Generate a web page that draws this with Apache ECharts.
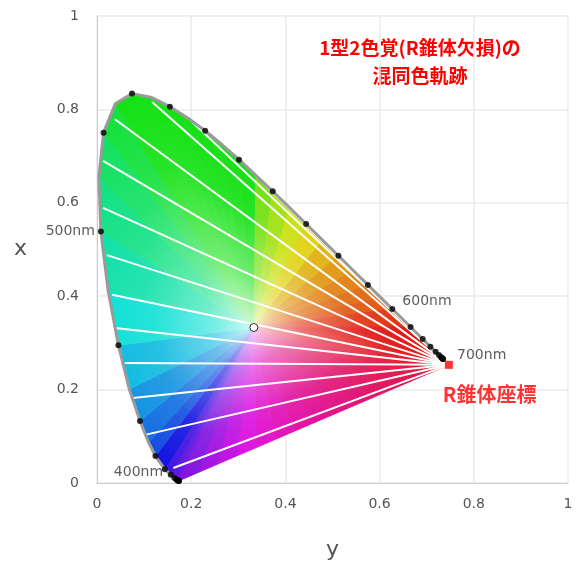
<!DOCTYPE html>
<html lang="ja">
<head>
    <meta charset="UTF-8">
    <title>混同色軌跡</title>
    <script src="https://cdn.jsdelivr.net/npm/echarts@6/dist/echarts.min.js"></script>
    <style type="text/css">
        html, body { margin: 0; padding: 0; background: #fff; }
        #chart { width: 585px; height: 568px; }
    </style>
</head>
<body>
<div id="chart"></div>
<script type="text/javascript">
    // スペクトル軌跡 [nm, x, y]
    var locus = [
        [380, 0.1741, 0.0050], [390, 0.1738, 0.0049], [400, 0.1733, 0.0048], [410, 0.1726, 0.0048],
        [420, 0.1714, 0.0051], [430, 0.1689, 0.0069], [440, 0.1644, 0.0109], [450, 0.1566, 0.0177],
        [460, 0.1440, 0.0297], [470, 0.1241, 0.0578], [475, 0.1096, 0.0868], [480, 0.0913, 0.1327],
        [485, 0.0687, 0.2007], [490, 0.0454, 0.2950], [495, 0.0235, 0.4127], [500, 0.0082, 0.5384],
        [505, 0.0039, 0.6548], [510, 0.0139, 0.7502], [515, 0.0389, 0.8120], [520, 0.0743, 0.8338],
        [525, 0.1142, 0.8262], [530, 0.1547, 0.8059], [535, 0.1929, 0.7816], [540, 0.2296, 0.7543],
        [545, 0.2658, 0.7243], [550, 0.3016, 0.6923], [555, 0.3373, 0.6589], [560, 0.3731, 0.6245],
        [565, 0.4087, 0.5896], [570, 0.4441, 0.5547], [575, 0.4788, 0.5202], [580, 0.5125, 0.4866],
        [585, 0.5448, 0.4544], [590, 0.5752, 0.4242], [595, 0.6029, 0.3965], [600, 0.6270, 0.3725],
        [610, 0.6658, 0.3340], [620, 0.6915, 0.3083], [630, 0.7079, 0.2920], [640, 0.7190, 0.2809],
        [650, 0.7260, 0.2740], [660, 0.7300, 0.2700], [670, 0.7320, 0.2680], [680, 0.7334, 0.2666],
        [690, 0.7344, 0.2656], [700, 0.7347, 0.2653]
    ];
    // R錐体の混同色中心
    var copunctal = [0.747, 0.253];
    var whitePoint = [0.333, 0.333];
    // 混同色線の端点
    var confusionEnds = [
        [0.162, 0.032], [0.102, 0.103], [0.076, 0.182], [0.059, 0.257], [0.038, 0.332],
        [0.032, 0.403], [0.021, 0.488], [0.013, 0.589], [0.013, 0.690], [0.038, 0.779],
        [0.117, 0.816], [0.200, 0.775], [0.280, 0.715], [0.360, 0.635], [0.440, 0.555],
        [0.520, 0.475], [0.590, 0.405], [0.650, 0.350]
    ];
    // 波長ラベル
    var nmLabels = [
        [0.0082, 0.5384, '500nm', 'left', [0, 0]],
        [0.6270, 0.3725, '600nm', 'right', [4, -8]],
        [0.7347, 0.2653, '700nm', 'right', [8, -4]],
        [0.1700, 0.0048, '400nm', 'left', [-8, -8]]
    ];

    // xy -> sRGB
    function xyColor(x, y) {
        var X = x / y, Y = 1, Z = (1 - x - y) / y;
        var r = 3.2406 * X - 1.5372 * Y - 0.4986 * Z;
        var g = -0.9689 * X + 1.8758 * Y + 0.0415 * Z;
        var b = 0.0557 * X - 0.2040 * Y + 1.0570 * Z;
        r = Math.max(r, 0); g = Math.max(g, 0); b = Math.max(b, 0);
        var m = Math.max(r, g, b);
        return [r, g, b].map(function (c) {
            c = c / m;
            c = c <= 0.0031308 ? 12.92 * c : 1.055 * Math.pow(c, 1 / 2.4) - 0.055;
            // 少し彩度を落とす
            return Math.round(Math.min(1, c) * 205 + 20);
        });
    }
    function rgb(c, k) {
        var v = c.map(function (t) { return Math.round(t + (255 - t) * k); });
        return 'rgb(' + v[0] + ',' + v[1] + ',' + v[2] + ')';
    }

    // 塗りの多角形 (軌跡 + 混同色中心)
    var poly = locus.map(function (p) { return [p[1], p[2]]; });
    poly.push(copunctal);
    var fillData = [];
    for (var i = 0; i < poly.length; i++) fillData.push([i]);

    var chart = echarts.init(document.getElementById('chart'));

    function renderFill(params, api) {
        var i = api.value(0);
        var a = poly[i], b = poly[(i + 1) % poly.length];
        var steps = (i >= poly.length - 2) ? 14 : 1;
        var children = [];
        var c = api.coord(whitePoint);
        for (var s = 0; s < steps; s++) {
            var p0 = [a[0] + (b[0] - a[0]) * s / steps, a[1] + (b[1] - a[1]) * s / steps];
            var p1 = [a[0] + (b[0] - a[0]) * (s + 1) / steps, a[1] + (b[1] - a[1]) * (s + 1) / steps];
            var mid = [(p0[0] + p1[0]) / 2, (p0[1] + p1[1]) / 2];
            var col = xyColor(mid[0], mid[1]);
            var q0 = api.coord(p0), q1 = api.coord(p1), qm = api.coord(mid);
            var grad = new echarts.graphic.LinearGradient(c[0], c[1], qm[0], qm[1], [
                { offset: 0, color: rgb(col, 0.8) },
                { offset: 0.3, color: rgb(col, 0.4) },
                { offset: 0.7, color: rgb(col, 0.08) },
                { offset: 1, color: rgb(col, 0) }
            ], true);
            children.push({
                type: 'polygon',
                shape: { points: [c, q0, q1] },
                style: { fill: grad, stroke: grad, lineWidth: 1 }
            });
        }
        return { type: 'group', children: children };
    }

    var option = {
        animation: false,
        textStyle: { fontFamily: 'DejaVu Sans' },
        grid: { left: 97, right: 17, top: 16, bottom: 85 },
        xAxis: {
            type: 'value', min: 0, max: 1, interval: 0.2,
            name: 'y', nameLocation: 'middle', nameGap: 56,
            nameTextStyle: { fontSize: 22, color: '#555' },
            axisLine: { show: true, lineStyle: { color: '#ccc' } },
            axisTick: { show: false },
            axisLabel: { color: '#555', fontSize: 14, margin: 14 },
            splitLine: { lineStyle: { color: '#ebebeb', width: 1.5 } }
        },
        yAxis: {
            type: 'value', min: 0, max: 1, interval: 0.2,
            name: 'x', nameLocation: 'middle', nameGap: 70, nameRotate: 0,
            nameTextStyle: { fontSize: 22, color: '#555' },
            axisLine: { show: true, lineStyle: { color: '#ccc' } },
            axisTick: { show: false },
            axisLabel: { color: '#555', fontSize: 14, margin: 18 },
            splitLine: { lineStyle: { color: '#ebebeb', width: 1.5 } }
        },
        graphic: [{
            type: 'text', x: 420, y: 34,
            style: {
                text: '1型2色覚(R錐体欠損)の\n混同色軌跡', fill: '#ff0000',
                font: 'bold 19px "Noto Sans CJK JP"', align: 'center', lineHeight: 28
            }
        }],
        series: [
            {
                type: 'custom', renderItem: renderFill, data: fillData,
                silent: true, clip: false, z: 1
            },
            {
                type: 'lines', coordinateSystem: 'cartesian2d', z: 2, silent: true,
                lineStyle: { color: '#fff', width: 2, opacity: 1 },
                data: confusionEnds.map(function (e) { return { coords: [copunctal, e] }; })
            },
            {
                type: 'line', z: 3, symbol: 'none', silent: true,
                lineStyle: { color: '#9a9a9a', width: 3 },
                data: locus.map(function (p) { return [p[1], p[2]]; })
            },
            {
                type: 'scatter', z: 4, symbolSize: 6, itemStyle: { color: '#000' },
                data: locus.filter(function (p) { return p[0] % 10 === 0; })
                    .map(function (p) { return [p[1], p[2]]; })
            },
            {
                type: 'scatter', z: 5, symbolSize: 8,
                itemStyle: { color: '#fff', borderColor: '#000', borderWidth: 1 },
                data: [whitePoint]
            },
            {
                type: 'scatter', z: 5, symbol: 'rect', symbolSize: 8,
                itemStyle: { color: '#ff0000' },
                data: [copunctal],
                label: {
                    show: true, position: [-2, 24], formatter: 'R錐体座標',
                    color: '#ff0000', fontWeight: 'bold', fontSize: 20,
                    fontFamily: 'Noto Sans CJK JP'
                }
            },
            {
                type: 'scatter', z: 6, symbolSize: 0,
                data: nmLabels.map(function (l) {
                    return {
                        value: [l[0], l[1]],
                        label: {
                            show: true, formatter: l[2], position: l[3],
                            color: '#333', fontSize: 14, distance: 6, offset: l[4]
                        }
                    };
                })
            }
        ]
    };
    chart.setOption(option);
</script>
</body>
</html>
